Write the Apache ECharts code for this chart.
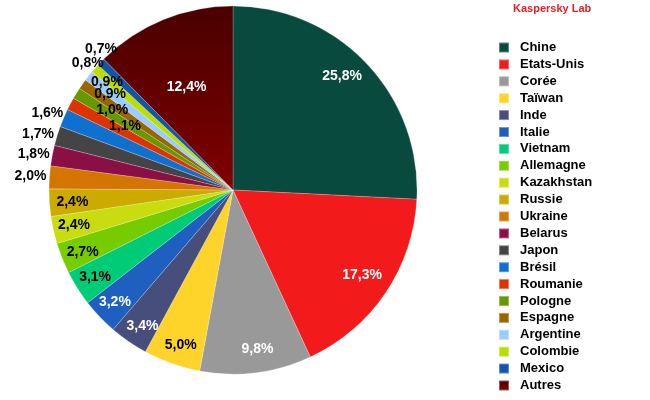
<!DOCTYPE html>
<html>
<head>
<meta charset="utf-8">
<script src="https://cdn.jsdelivr.net/npm/echarts@6/dist/echarts.min.js"></script>
<style>
  html, body { margin: 0; padding: 0; background: #fff; }
  #chart { width: 650px; height: 400px; }
</style>
</head>
<body>
<div id="chart"></div>
<script>
// pays (ordre du graphique, sens horaire depuis midi)
var countries = ['Chine', 'Etats-Unis', 'Corée', 'Taïwan', 'Inde', 'Italie', 'Vietnam',
  'Allemagne', 'Kazakhstan', 'Russie', 'Ukraine', 'Belarus', 'Japon', 'Brésil',
  'Roumanie', 'Pologne', 'Espagne', 'Argentine', 'Colombie', 'Mexico', 'Autres'];
// parts en %
var shares = [25.8, 17.3, 9.8, 5.0, 3.4, 3.2, 3.1, 2.7, 2.4, 2.4, 2.0, 1.8, 1.7, 1.6,
  1.1, 1.0, 0.9, 0.9, 0.8, 0.7, 12.4];
var colors = ['#084a3d', '#f21a1a', '#999999', '#ffd42a', '#474e7c', '#1e5fbf', '#00cc77',
  '#77cc00', '#c8dc10', '#ccaa00', '#d47500', '#8a0f44', '#444444', '#1070d0',
  '#dd3300', '#669900', '#996600', '#99ccff', '#bbdd00', '#1155aa', '#660000'];

var CENTER = [233, 190];
var RADIUS = 184;
// étiquettes blanches
var whiteLabels = ['Chine', 'Etats-Unis', 'Corée', 'Inde', 'Italie', 'Autres'];
// rayons des étiquettes (comme le graphique d'origine, placées à la main)
var labelRings = [
  { r: 160, names: ['Chine', 'Etats-Unis', 'Corée', 'Taïwan', 'Inde', 'Italie', 'Vietnam',
    'Allemagne', 'Kazakhstan', 'Russie'] },
  { r: 114, names: ['Autres'] },
  { r: 126, names: ['Roumanie'] },
  { r: 146, names: ['Pologne'] },
  { r: 157, names: ['Espagne'] },
  { r: 168, names: ['Argentine'] },
  { r: 192, names: ['Colombie', 'Mexico'] },
  { r: 202, names: ['Ukraine', 'Belarus', 'Japon', 'Brésil'] }
];
// petits décalages [dx, dy] des étiquettes
var labelNudge = {
  'Chine': [-9, -2], 'Etats-Unis': [-6, -6], 'Corée': [4, -3], 'Taïwan': [2, 1],
  'Inde': [2, 2], 'Allemagne': [1, 2], 'Russie': [2, 1], 'Autres': [-2, 5],
  'Ukraine': [2, 0], 'Belarus': [2, 3], 'Japon': [1, 4], 'Brésil': [3, 3],
  'Roumanie': [6, -3], 'Pologne': [6, -2], 'Espagne': [8, -4], 'Argentine': [8, -2],
  'Colombie': [1, 2], 'Mexico': [8, -5]
};

function fmt(v) {
  return v.toFixed(1).replace('.', ',') + '%';
}

var mainData = countries.map(function(name, i) {
  var color = colors[i];
  if (name === 'Autres') {
    color = {
      type: 'linear', x: 0, y: 0, x2: 0, y2: 1,
      colorStops: [{ offset: 0, color: '#4a0000' }, { offset: 1, color: '#800000' }]
    };
  }
  return { name: name, value: shares[i], itemStyle: { color: color } };
});

var series = [{
  type: 'pie',
  center: CENTER,
  radius: RADIUS,
  startAngle: 90,
  clockwise: true,
  avoidLabelOverlap: false,
  animation: false,
  label: { show: false },
  labelLine: { show: false },
  itemStyle: { borderColor: 'rgba(255,255,255,0.35)', borderWidth: 0.6 },
  emphasis: { scale: false },
  data: mainData
}];

// une couronne invisible par rayon d'étiquette
labelRings.forEach(function(ring) {
  series.push({
    type: 'pie',
    center: CENTER,
    radius: [ring.r - 1, ring.r + 1],
    startAngle: 90,
    clockwise: true,
    silent: true,
    animation: false,
    avoidLabelOverlap: false,
    labelLayout: function(p) {
      var n = labelNudge[countries[p.dataIndex]] || [0, 0];
      return { dx: n[0], dy: n[1], hideOverlap: false };
    },
    itemStyle: { color: 'rgba(0,0,0,0)', borderWidth: 0 },
    emphasis: { disabled: true },
    labelLine: { show: false },
    data: countries.map(function(name, i) {
      return {
        name: name,
        value: shares[i],
        label: {
          show: ring.names.indexOf(name) >= 0,
          position: 'inside',
          formatter: fmt(shares[i]),
          color: whiteLabels.indexOf(name) >= 0 ? '#ffffff' : '#000000',
          fontFamily: 'Liberation Sans, Arial, sans-serif',
          fontWeight: 'bold',
          fontSize: 14
        }
      };
    })
  });
});

var chart = echarts.init(document.getElementById('chart'));
chart.setOption({
  animation: false,
  title: {
    text: 'Kaspersky Lab',
    left: 513,
    top: 3,
    padding: 0,
    textStyle: {
      color: '#ee1c25',
      fontFamily: 'Liberation Sans, Arial, sans-serif',
      fontWeight: 'bold',
      fontSize: 11
    }
  },
  legend: {
    orient: 'vertical',
    left: 498,
    top: 41,
    padding: 0,
    itemWidth: 10,
    itemHeight: 10,
    itemGap: 3.9,
    icon: 'rect',
    data: countries,
    textStyle: {
      color: '#000',
      fontFamily: 'Liberation Sans, Arial, sans-serif',
      fontWeight: 'bold',
      fontSize: 13,
      padding: [0, 0, 0, 6]
    }
  },
  series: series
});
</script>
</body>
</html>
